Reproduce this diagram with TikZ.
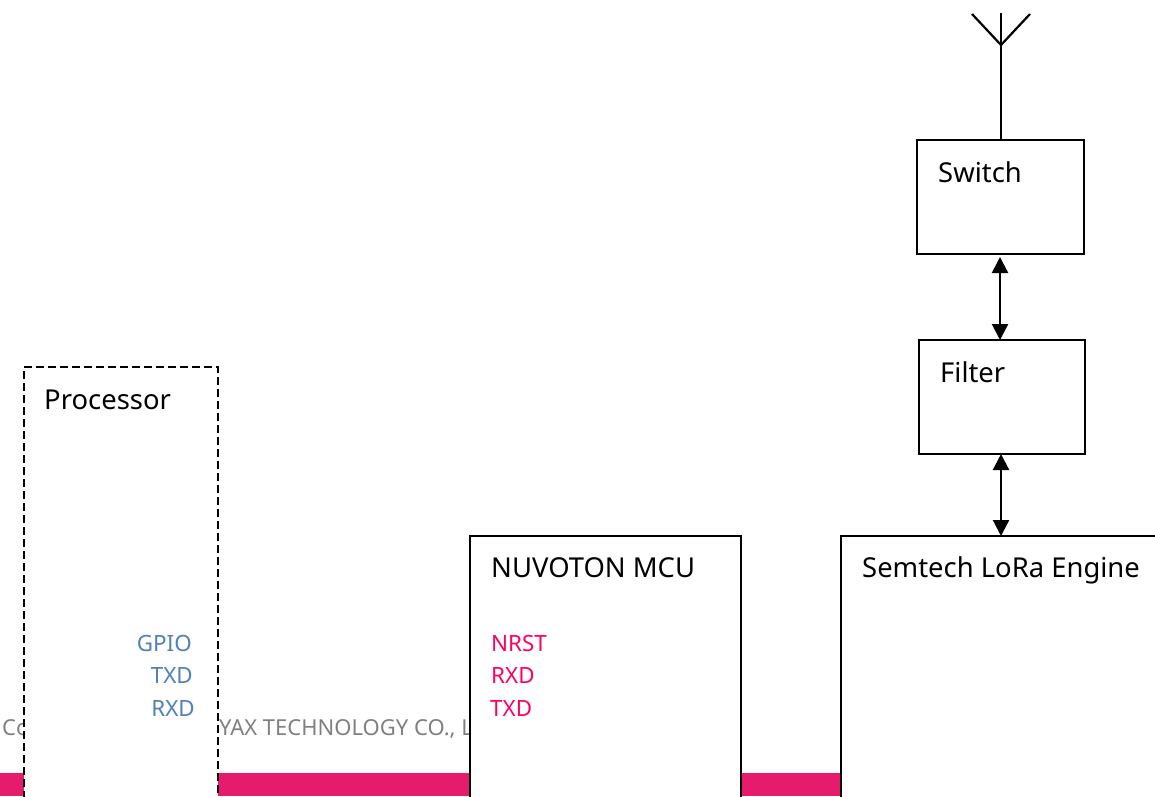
\documentclass[tikz,border=0pt]{standalone}
\usepackage{fontspec}
\setmainfont{Noto Sans}
\usetikzlibrary{arrows.meta}
\definecolor{barpink}{HTML}{E71B6B}
\definecolor{pinktxt}{HTML}{FF0066}
\definecolor{bluetxt}{HTML}{4F81BD}
\definecolor{graytxt}{HTML}{808080}
\tikzset{
  x=1pt,y=-1pt,
  box/.style={draw=black,line width=2.2pt,fill=white,rectangle,inner sep=0pt,outer sep=0pt},
  dashbox/.style={box,dash pattern=on 8pt off 4pt},
  big/.style={anchor=base west,inner sep=0pt,font=\fontsize{27.4}{27.4}\selectfont,text=black},
  small/.style={inner sep=0pt,font=\fontsize{22.4}{22.4}\selectfont},
  pinlabelblue/.style={small,anchor=base east,text=bluetxt},
  pinlabelpink/.style={small,anchor=base west,text=pinktxt},
  foot/.style={anchor=base west,inner sep=0pt,font=\fontsize{22}{22}\selectfont,text=graytxt},
  link/.style={line width=2.2pt,{Triangle[length=16pt,width=16pt]}-{Triangle[length=16pt,width=16pt]}},
  wire/.style={line width=2.2pt}
}
\begin{document}
\begin{tikzpicture}
\useasboundingbox (0,0) rectangle (1155,796);
\clip (0,0) rectangle (1155,796);
\fill[white] (0,0) rectangle (1155,796);
\fill[barpink] (0,773) rectangle (1155,796);
\node[foot] (c1) at (2,735) {Co};
\node[foot] (c2) at (219,735) {YAX TECHNOLOGY CO., LTD};
\node[dashbox,minimum width=194pt,minimum height=460pt] (proc) at (121,597) {};
\node[box,minimum width=271pt,minimum height=300pt] (mcu) at (605.5,686) {};
\node[box,minimum width=320pt,minimum height=300pt] (lora) at (1001,686) {};
\node[box,minimum width=167pt,minimum height=114pt] (switch) at (1000.5,197) {};
\node[box,minimum width=166pt,minimum height=114pt] (filter) at (1002,397) {};
\node[big] (tswitch) at (938,182) {Switch};
\node[big] (tfilter) at (940,382) {Filter};
\node[big] (tproc) at (44,409) {Processor};
\node[big] (tmcu) at (491,577) {NUVOTON MCU};
\node[big] (tlora) at (862,577) {Semtech LoRa Engine};
\node[pinlabelblue] (g) at (192,651) {GPIO};
\node[pinlabelblue] (t) at (193,683) {TXD};
\node[pinlabelblue] (r) at (195,716) {RXD};
\node[pinlabelpink] (n1) at (491,651) {NRST};
\node[pinlabelpink] (n2) at (491,683) {RXD};
\node[pinlabelpink] (n3) at (490,716) {TXD};
\coordinate (anttop) at (1001,13);
\coordinate (antjoin) at (1001,45);
\coordinate (antl) at (972,14);
\coordinate (antr) at (1030,14);
\draw[wire] (switch.north) ++(0.5,0) -- (anttop);
\draw[wire] (antl) -- (antjoin) -- (antr);
\coordinate (sf1) at ([xshift=-0.5pt,yshift=-3pt]switch.south);
\draw[link] (sf1) -- (filter.north -| sf1);
\coordinate (fl1) at ([xshift=-1pt]filter.south);
\draw[link] (fl1) -- (fl1 |- lora.north);
\end{tikzpicture}
\end{document}
